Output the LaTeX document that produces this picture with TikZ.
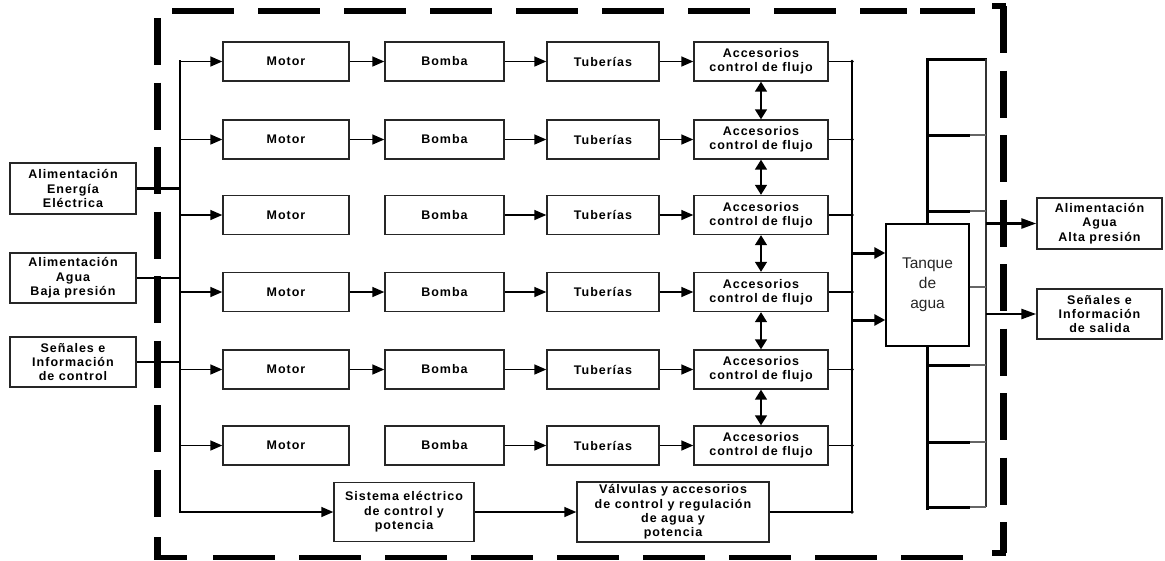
\documentclass[tikz,border=0pt]{standalone}
\usepackage{fontspec}
\setmainfont{Liberation Sans}
\newfontfamily\lblfont[LetterSpace=8]{Liberation Sans}
\usetikzlibrary{arrows.meta}
\begin{document}
\begin{tikzpicture}[x=1pt,y=-1pt,
  box/.style={draw=black!85, line width=1.4pt, inner sep=0pt, align=center,
    font=\lblfont\bfseries\fontsize{12.5}{14.3}\selectfont},
  rowbox/.style={box, minimum height=39pt},
  arr/.style={line width=1.5pt, -{Triangle[length=12pt,width=10pt]}},
  darr/.style={line width=1.5pt, {Triangle[length=10pt,width=12pt]}-{Triangle[length=10pt,width=12pt]}},
  tarr/.style={line width=3pt, -{Triangle[length=11pt,width=11pt]}},
  oarr/.style={line width=2.6pt, -{Triangle[length=15pt,width=10pt]}},
  wire/.style={line width=1.6pt},
  hdash/.style={line width=5.5pt, dash pattern=on 62pt off 24pt},
  vdash/.style={line width=7pt, dash pattern=on 47pt off 17.5pt},
  hsolid/.style={line width=5.5pt},
  vsolid/.style={line width=7pt},
  rung/.style={line width=3pt},
  thin/.style={line width=1.5pt, draw=black!60}
]
\useasboundingbox (0,0) rectangle (1165,560);

% dashed border
\draw[hdash] (172,11) -- (907,11);
\draw[hsolid] (920,11) -- (975,11);
\draw[hsolid] (992,6) -- (1006,6);
\draw[vdash] (1003.5,6) -- (1003.5,553);
\draw[hsolid] (992,553) -- (1006,553);
\draw[hdash] (213,557.5) -- (970,557.5);
\draw[vsolid] (157.5,537) -- (157.5,557.5);
\draw[hsolid] (154,557.5) -- (187,557.5);
\draw[vdash] (157.5,18) -- (157.5,520);

% input boxes
\node[box, minimum width=126pt, minimum height=51pt] (in1) at (73,188.5) {Alimentación\\Energía\\Eléctrica};
\node[box, minimum width=126pt, minimum height=50pt] (in2) at (73,278) {Alimentación\\Agua\\Baja presión};
\node[box, minimum width=126pt, minimum height=50pt] (in3) at (73,362) {Señales e\\Información\\de control};

% rows
\foreach \i/\y in {1/61.5,2/139.5,3/215,4/292,5/369.5,6/445.5}{
  \node[rowbox, minimum width=126pt] (m\i) at (286,\y) {Motor};
  \node[rowbox, minimum width=119pt] (b\i) at (444.5,\y) {Bomba};
  \node[rowbox, minimum width=112pt] (t\i) at (603,\y) {Tuberías};
  \node[rowbox, minimum width=134pt] (a\i) at (761,\y) {Accesorios\\control de flujo};
  \draw[arr] (b\i) -- (t\i);
  \draw[arr] (t\i) -- (a\i);
}
\foreach \i in {1,2,4,5}{ \draw[arr] (m\i) -- (b\i); }
\foreach \i/\j in {1/2,2/3,3/4,4/5,5/6}{ \draw[darr] (a\i) -- (a\j); }

% bottom row
\node[box, minimum width=140pt, minimum height=59pt] (sis) at (404,512) {Sistema eléctrico\\de control y\\potencia};
\node[box, minimum width=192pt, minimum height=60pt] (val) at (673,512) {Válvulas y accesorios\\de control y regulación\\de agua y\\potencia};
\draw[arr] (sis) -- (val);

% left bus
\coordinate (busT) at (180,61.5);
\coordinate (busB) at (180,512);
\draw[line width=2.2pt, line cap=rect] (busT) -- (busB);
\foreach \i in {1,...,6}{ \draw[arr] (m\i.west -| busT) -- (m\i.west); }
\draw[arr] (busB) -- (sis.west);
\draw[line width=3pt] (in1.east) -- (in1.east -| busT);
\draw[wire] (in2.east) -- (in2.east -| busT);
\draw[wire] (in3.east) -- (in3.east -| busT);

% right collector
\coordinate (colT) at (852,61.5);
\coordinate (colB) at (852,512);
\draw[line width=2pt, line cap=rect] (colT) -- (colB);
\foreach \i in {1,...,6}{
  \draw[wire] (a\i.east) -- (a\i.east -| colT);
  \fill (a\i.east -| colT) circle (1.8pt);
}
\draw[wire] (val.east) -- (val.east -| colT);
\fill (colB) circle (1.8pt);

% tank
\node[draw=black, line width=1.4pt, minimum width=83pt, minimum height=122pt, inner sep=0pt, align=center,
  font=\fontsize{15.5}{20}\selectfont, text=black!85] (tank) at (927.5,285) {Tanque\\de\\agua};
\coordinate (ti1) at (852,253);
\coordinate (ti2) at (852,320);
\draw[tarr] (ti1) -- (ti1 -| tank.west);
\draw[tarr] (ti2) -- (ti2 -| tank.west);

% ladder
\coordinate (lt) at (927.5,59);
\coordinate (rt) at (986,59);
\coordinate (lb) at (927.5,510);
\coordinate (rb) at (986,507);
\draw[rung] (lt) -- (tank.north);
\draw[rung] (tank.south) -- (lb);
\draw[rung] ([xshift=-1.5pt]lt) -- ([xshift=1pt]rt);
\draw[line width=2pt, draw=black!80] (rt) -- (rb);
\foreach \y in {135,211,365,442,507}{
  \coordinate (r\y) at (927.5,\y);
  \coordinate (q\y) at (970,\y);
  \draw[rung] (r\y) -- (q\y);
  \draw[thin] (q\y) -- (q\y -| rt);
}
\draw[thin] (tank.east |- 0,287) -- (986,287);

% outputs
\node[box, minimum width=125pt, minimum height=51pt] (out1) at (1099.5,223.5) {Alimentación\\Agua\\Alta presión};
\node[box, minimum width=125pt, minimum height=50pt] (out2) at (1099.5,314) {Señales e\\Información\\de salida};
\coordinate (o1) at (986,223.5);
\coordinate (o2) at (986,314);
\draw[oarr] (o1) -- (out1.west);
\draw[oarr] (o2) -- (out2.west);
\end{tikzpicture}
\end{document}
